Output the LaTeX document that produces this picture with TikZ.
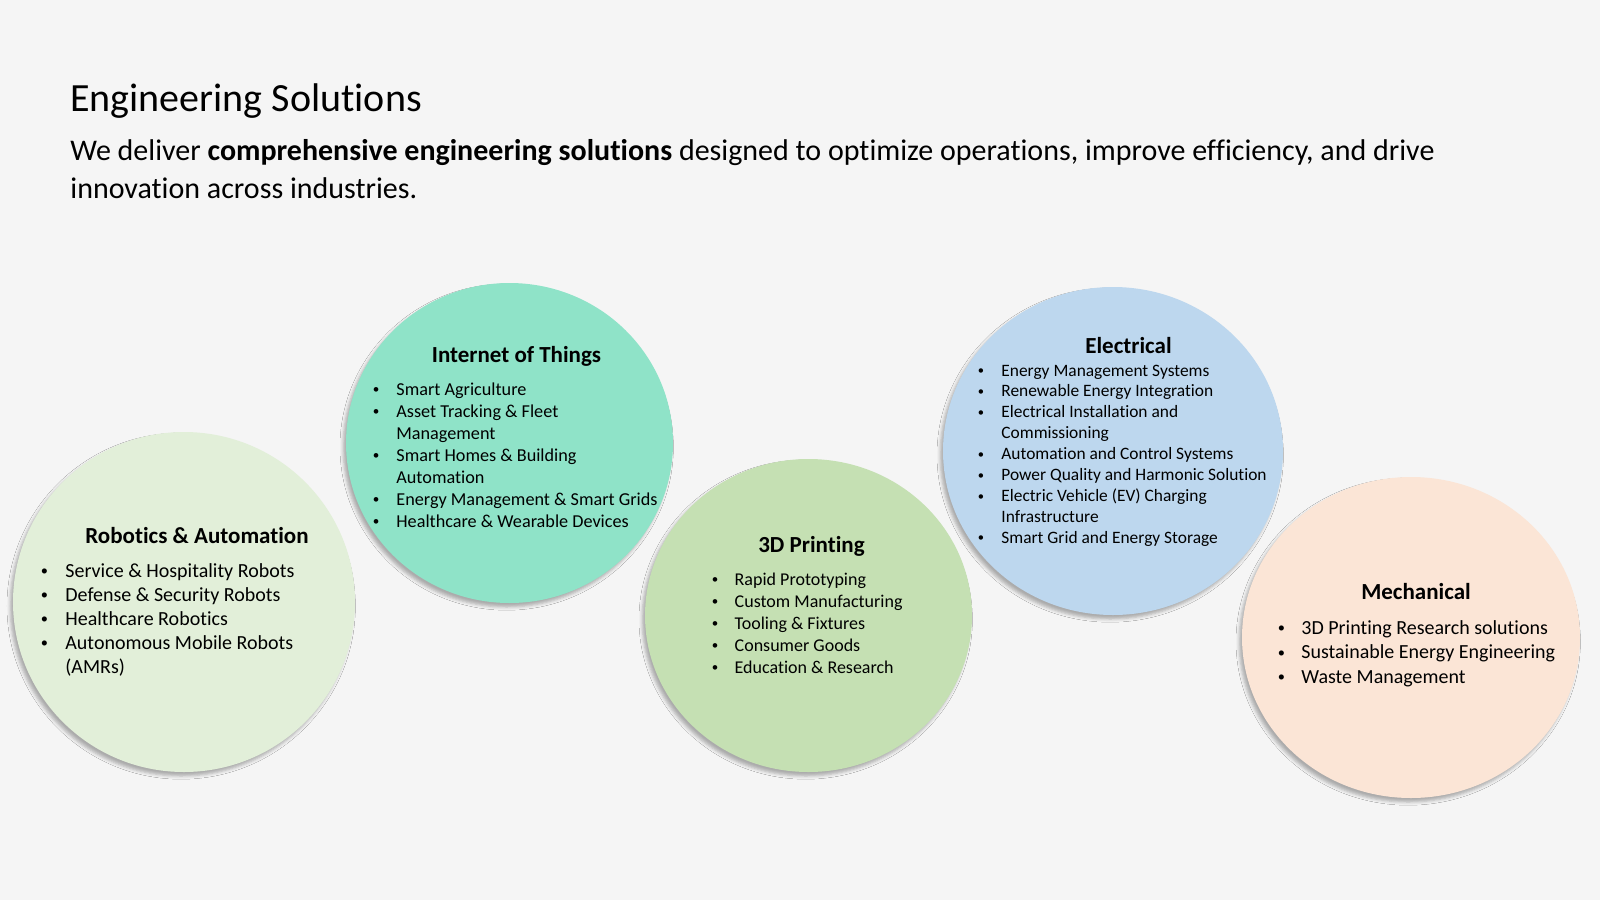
\documentclass[tikz,border=0pt]{standalone}
\usepackage{fontspec}
\setmainfont{Carlito}[RawFeature={-liga,-clig,-calt,-dlig}]
\usetikzlibrary{shapes.geometric,shadows.blur}

\definecolor{pagebg}{HTML}{F5F5F5}
\definecolor{robfill}{HTML}{E2EFD9}
\definecolor{iotfill}{HTML}{8FE3C8}
\definecolor{prtfill}{HTML}{C5E0B3}
\definecolor{elefill}{HTML}{BDD7EE}
\definecolor{mecfill}{HTML}{FBE5D6}

% bullet lists: hanging indent width, font size, line spacing
\newlength\bulw
\newcommand\bdot{\raisebox{0.07em}{\scalebox{0.72}{•}}}
\newcommand\bitem[1]{\makebox[\bulw][l]{\bdot}#1\par}
\newcommand\bcont[1]{\hspace*{\bulw}#1\par}
\newcommand\blist[4]{\setlength\bulw{#1}%
  \parbox[t]{200pt}{\fontsize{#2}{#3}\selectfont\raggedright #4}}

\tikzset{
  bubble/.style={ellipse, inner sep=0pt, draw=none,
    blur shadow={shadow xshift=-1.4pt, shadow yshift=-2pt,
      shadow blur radius=1.6pt, shadow opacity=30}},
  bubtitle/.style={anchor=base, inner sep=0pt,
    font=\fontsize{11.5}{14}\selectfont\bfseries},
  bublist/.style={anchor=base west, inner sep=0pt},
  headline/.style={anchor=base west, inner sep=0pt}
}

\begin{document}
\begin{tikzpicture}[x=0.5pt,y=-0.5pt]
\fill[pagebg] (0,0) rectangle (1600,900);
\useasboundingbox (0,0) rectangle (1600,900);

% header
\node[headline, font=\fontsize{20}{24}\selectfont] (title) at (70,111) {Engineering Solutions};
\node[headline, font=\fontsize{15}{18}\selectfont] (sub1) at (70,160)
  {We deliver \textbf{comprehensive engineering solutions} designed to optimize operations, improve efficiency, and drive};
\node[headline, font=\fontsize{15}{18}\selectfont] (sub2) at (70,198)
  {innovation across industries.};

% bubbles
\node[bubble, fill=robfill, minimum width=171pt, minimum height=170pt] (rob) at (184,602) {};
\node[bubble, fill=iotfill, minimum width=163.5pt, minimum height=160pt] (iot) at (509.5,443) {};
\node[bubble, fill=prtfill, minimum width=163.5pt, minimum height=156.5pt] (prt) at (808.5,615.5) {};
\node[bubble, fill=elefill, minimum width=170pt, minimum height=164pt] (ele) at (1113,451) {};
\node[bubble, fill=mecfill, minimum width=169pt, minimum height=160.5pt] (mec) at (1411,637.5) {};

% Robotics & Automation
\node[bubtitle] (robt) at (197,543) {Robotics \& Automation};
\node[bublist] (robl) at (40.5,577) {\blist{12.25pt}{10}{12}{%
  \bitem{Service \& Hospitality Robots}
  \bitem{Defense \& Security Robots}
  \bitem{Healthcare Robotics}
  \bitem{Autonomous Mobile Robots}
  \bcont{(AMRs)}}};

% Internet of Things
\node[bubtitle] (iott) at (516.5,362) {Internet of Things};
\node[bublist] (iotl) at (372.5,395) {\blist{11.75pt}{9.1}{11}{%
  \bitem{Smart Agriculture}
  \bitem{Asset Tracking \& Fleet}
  \bcont{Management}
  \bitem{Smart Homes \& Building}
  \bcont{Automation}
  \bitem{Energy Management \& Smart Grids}
  \bitem{Healthcare \& Wearable Devices}}};

% 3D Printing
\node[bubtitle] (prtt) at (811.5,552) {3D Printing};
\node[bublist] (prtl) at (711.5,585) {\blist{11.4pt}{9}{11}{%
  \bitem{Rapid Prototyping}
  \bitem{Custom Manufacturing}
  \bitem{Tooling \& Fixtures}
  \bitem{Consumer Goods}
  \bitem{Education \& Research}}};

% Electrical
\node[bubtitle] (elet) at (1128.5,353) {Electrical};
\node[bublist] (elel) at (977.5,376) {\blist{11.75pt}{8.7}{10.45}{%
  \bitem{Energy Management Systems}
  \bitem{Renewable Energy Integration}
  \bitem{Electrical Installation and}
  \bcont{Commissioning}
  \bitem{Automation and Control Systems}
  \bitem{Power Quality and Harmonic Solution}
  \bitem{Electric Vehicle (EV) Charging}
  \bcont{Infrastructure}
  \bitem{Smart Grid and Energy Storage}}};

% Mechanical
\node[bubtitle] (mect) at (1416,599) {Mechanical};
\node[bublist] (mecl) at (1277.5,634) {\blist{11.75pt}{10}{12.25}{%
  \bitem{3D Printing Research solutions}
  \bitem{Sustainable Energy Engineering}
  \bitem{Waste Management}}};
\end{tikzpicture}
\end{document}
